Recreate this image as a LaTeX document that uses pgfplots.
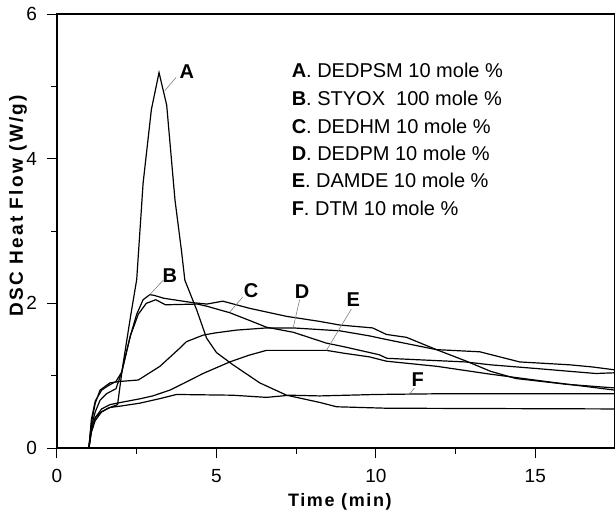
\documentclass[border=0pt]{standalone}
\usepackage{fontspec}
\setmainfont{Liberation Sans}
\newfontfamily\lblfont[LetterSpace=12]{Liberation Sans}
\newfontfamily\xlblfont[LetterSpace=9]{Liberation Sans}
\usepackage{pgfplots}
\pgfplotsset{compat=1.18}
\begin{document}
\begin{tikzpicture}
\begin{axis}[name=ax, scale only axis, width=279pt, height=217pt,
  xmin=0, xmax=17.5, ymin=0, ymax=6,
  xtick={0,5,10,15}, minor xtick={2.5,7.5,12.5},
  ytick={0,2,4,6}, minor ytick={1,3,5},
  tick align=outside, xtick pos=bottom, ytick pos=left,
  major tick length=5pt, minor tick length=3pt,
  tick style={black, line width=0.5pt},
  axis line style={line width=0.6pt},
  tick label style={font=\fontsize{9.5}{11}\selectfont},
  yticklabel style={xshift=-1.5pt},
  xticklabel style={yshift=-2pt},
  /pgf/number format/assume math mode=true,
  xlabel={Time (min)}, ylabel={DSC Heat Flow (W/g)},
  xlabel style={font=\xlblfont\bfseries\fontsize{9}{10}\selectfont, at={(axis description cs:0.507,-0.124)}, anchor=center},
  ylabel style={font=\lblfont\bfseries\fontsize{9.5}{10}\selectfont, at={(axis description cs:-0.07,0.558)}, anchor=center},
]
% A
\addplot[black, line width=0.6pt, mark=none] coordinates {(1.0,0) (1.08,0.25) (1.2,0.42) (1.4,0.5) (1.6,0.55) (1.9,0.6) (2.05,1.1) (2.3,1.8) (2.5,2.33) (2.7,3.66) (2.96,4.68) (3.2,5.19) (3.44,4.74) (3.7,3.43) (3.9,2.74) (4.01,2.32) (4.38,1.91) (4.69,1.52) (5.0,1.32) (5.52,1.15) (6.36,0.9) (7.2,0.73) (8.24,0.63) (8.77,0.57) (10.33,0.55) (17.5,0.54)};
% B
\addplot[black, line width=0.6pt, mark=none] coordinates {(1.0,0) (1.08,0.4) (1.2,0.65) (1.4,0.8) (1.6,0.86) (1.85,0.92) (2.03,1.05) (2.3,1.55) (2.5,1.85) (2.7,2.05) (2.91,2.12) (3.05,2.11) (3.35,2.07) (4.25,2.01) (4.7,1.99) (5.2,2.03) (6.05,1.93) (7.2,1.82) (8.24,1.75) (8.87,1.70) (9.9,1.66) (10.33,1.57) (10.96,1.53) (11.9,1.36) (12.84,1.20) (13.6,1.06) (14.4,0.96) (16.0,0.88) (17.5,0.83)};
% C
\addplot[black, line width=0.6pt, mark=none] coordinates {(1.0,0) (1.08,0.3) (1.2,0.5) (1.35,0.66) (1.55,0.75) (1.85,0.82) (2.03,1.05) (2.3,1.55) (2.55,1.85) (2.8,2.0) (3.1,2.05) (3.4,1.98) (4.4,1.99) (4.7,1.96) (5.42,1.87) (6.0,1.77) (6.57,1.67) (7.41,1.60) (8.45,1.45) (9.0,1.40) (10.1,1.29) (10.35,1.24) (12.8,1.19) (13.6,1.15) (15.0,1.10) (16.9,1.03) (17.5,1.04)};
% D
\addplot[black, line width=0.6pt, mark=none] coordinates {(1.0,0) (1.08,0.35) (1.2,0.62) (1.35,0.8) (1.66,0.9) (1.97,0.92) (2.55,0.94) (3.23,1.13) (3.85,1.38) (4.06,1.47) (4.58,1.56) (4.95,1.59) (5.63,1.63) (6.57,1.66) (7.41,1.66) (8.87,1.62) (9.8,1.55) (10.33,1.50) (11.9,1.36) (13.26,1.33) (14.51,1.19) (16.08,1.15) (16.8,1.12) (17.5,1.08)};
% E
\addplot[black, line width=0.6pt, mark=none] coordinates {(1.0,0) (1.08,0.25) (1.2,0.42) (1.4,0.54) (1.66,0.6) (2.0,0.63) (2.6,0.68) (3.0,0.72) (3.54,0.80) (4.0,0.9) (4.58,1.03) (5.0,1.11) (5.42,1.19) (6.0,1.28) (6.57,1.35) (8.45,1.35) (9.0,1.31) (9.8,1.26) (10.33,1.2) (11.9,1.13) (13.6,1.02) (15.5,0.91) (17.5,0.80)};
% F
\addplot[black, line width=0.6pt, mark=none] coordinates {(1.0,0) (1.08,0.22) (1.2,0.38) (1.4,0.5) (1.66,0.56) (2.0,0.58) (2.6,0.62) (3.2,0.68) (3.75,0.74) (5.5,0.73) (6.57,0.70) (7.3,0.73) (8.24,0.72) (10.0,0.74) (12.0,0.75) (17.5,0.75)};
% curve labels and pointers
\draw[gray, line width=0.3pt] (axis cs:3.73,5.12) -- (axis cs:3.38,4.94);
\draw[gray, line width=0.3pt] (axis cs:3.33,2.32) -- (axis cs:2.91,2.12);
\draw[gray, line width=0.3pt] (axis cs:5.83,2.09) -- (axis cs:5.42,1.88);
\draw[gray, line width=0.3pt] (axis cs:7.61,2.05) -- (axis cs:7.40,1.65);
\draw[gray, line width=0.3pt] (axis cs:9.23,1.92) -- (axis cs:8.45,1.35);
\draw[gray, line width=0.3pt] (axis cs:11.21,0.83) -- (axis cs:11.06,0.75);
\node[font=\bfseries\fontsize{10}{12}\selectfont, inner sep=0pt] at (axis cs:4.07,5.21) {A};
\node[font=\bfseries\fontsize{10}{12}\selectfont, inner sep=0pt] at (axis cs:3.54,2.39) {B};
\node[font=\bfseries\fontsize{10}{12}\selectfont, inner sep=0pt] at (axis cs:6.09,2.17) {C};
\node[font=\bfseries\fontsize{10}{12}\selectfont, inner sep=0pt] at (axis cs:7.69,2.16) {D};
\node[font=\bfseries\fontsize{10}{12}\selectfont, inner sep=0pt] at (axis cs:9.29,2.05) {E};
\node[font=\bfseries\fontsize{10}{12}\selectfont, inner sep=0pt] at (axis cs:11.31,0.94) {F};
% legend text
\node[anchor=base west, inner sep=0pt, font=\fontsize{10}{12}\selectfont] at (axis cs:7.35,5.12) {\textbf{A}. DEDPSM 10 mole \%};
\node[anchor=base west, inner sep=0pt, font=\fontsize{10}{12}\selectfont] at (axis cs:7.35,4.74) {\textbf{B}. STYOX\ \ 100 mole \%};
\node[anchor=base west, inner sep=0pt, font=\fontsize{10}{12}\selectfont] at (axis cs:7.35,4.35) {\textbf{C}. DEDHM 10 mole \%};
\node[anchor=base west, inner sep=0pt, font=\fontsize{10}{12}\selectfont] at (axis cs:7.35,3.98) {\textbf{D}. DEDPM 10 mole \%};
\node[anchor=base west, inner sep=0pt, font=\fontsize{10}{12}\selectfont] at (axis cs:7.35,3.60) {\textbf{E}. DAMDE 10 mole \%};
\node[anchor=base west, inner sep=0pt, font=\fontsize{10}{12}\selectfont] at (axis cs:7.35,3.22) {\textbf{F}. DTM 10 mole \%};
\end{axis}
\pgfresetboundingbox
\path ([xshift=-28.5pt,yshift=-36pt]ax.south west) rectangle ([yshift=7pt]ax.north east);
\end{tikzpicture}
\end{document}
